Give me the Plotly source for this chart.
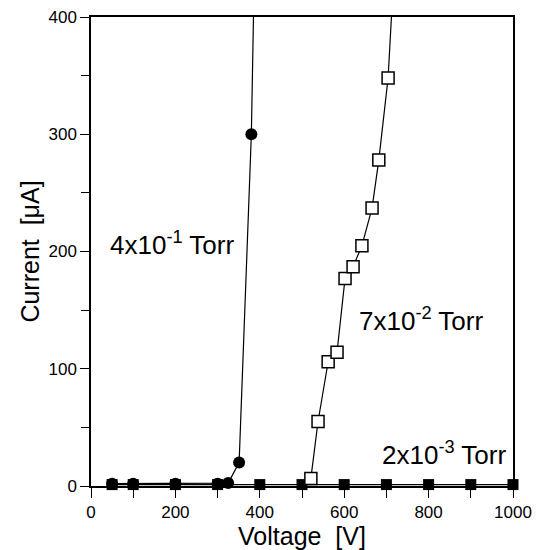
import plotly.graph_objects as go

# 4x10^-1 Torr (filled circles)
v_hi = [50, 100, 200, 300, 325, 351, 380]
i_hi = [2, 2, 2, 2, 2.5, 20, 300]
# line continuation beyond the last point (to top of plot)
v_hi_line = v_hi + [386]
i_hi_line = i_hi + [420]

# 7x10^-2 Torr (open squares)
v_mid = [521, 538, 562, 583, 602, 621, 642, 666, 682, 704]
i_mid = [6.5, 55, 106, 114, 177, 187, 205, 237, 278, 348]
v_mid_line = v_mid + [715]
i_mid_line = i_mid + [420]

# 2x10^-3 Torr (filled squares)
v_lo = [50, 100, 200, 300, 400, 500, 600, 700, 800, 900, 1000]
i_lo = [1.2, 1.2, 1.2, 1.2, 1.2, 1.2, 1.2, 1.2, 1.2, 1.2, 1.2]

labels = ["4x10<sup>-1</sup> Torr", "7x10<sup>-2</sup> Torr", "2x10<sup>-3</sup> Torr"]
label_x = [192, 782, 836]
label_y = [207, 142, 28]

FONT = "Liberation Sans, Arial, sans-serif"

fig = go.Figure()
# lines
fig.add_trace(go.Scatter(x=v_lo, y=i_lo, mode="lines", line=dict(color="black", width=1.2), hoverinfo="skip"))
fig.add_trace(go.Scatter(x=v_hi_line, y=i_hi_line, mode="lines", line=dict(color="black", width=1.2), hoverinfo="skip"))
fig.add_trace(go.Scatter(x=v_mid_line, y=i_mid_line, mode="lines", line=dict(color="black", width=1.2), hoverinfo="skip"))
# markers
fig.add_trace(go.Scatter(x=v_lo, y=i_lo, mode="markers", cliponaxis=False,
                         marker=dict(symbol="square", size=11, color="black")))
fig.add_trace(go.Scatter(x=v_hi, y=i_hi, mode="markers", cliponaxis=False,
                         marker=dict(symbol="circle", size=12, color="black")))
fig.add_trace(go.Scatter(x=v_mid, y=i_mid, mode="markers", cliponaxis=False,
                         marker=dict(symbol="square", size=12, color="white",
                                     line=dict(color="black", width=1.5))))

for t, x, y in zip(labels, label_x, label_y):
    fig.add_annotation(x=x, y=y, text=t, showarrow=False,
                       font=dict(family=FONT, size=26, color="black"))

fig.update_layout(
    width=547, height=550,
    margin=dict(l=83, r=42, t=9, b=72, autoexpand=False),
    paper_bgcolor="white", plot_bgcolor="white",
    showlegend=False,
    font=dict(family=FONT, color="black"),
)
fig.update_xaxes(
    range=[0, 1000], tickmode="linear", tick0=0, dtick=200,
    ticks="outside", ticklen=10, tickwidth=1.2, tickcolor="black",
    minor=dict(dtick=100, ticks="outside", ticklen=10, tickwidth=1.2, tickcolor="black"),
    showline=True, linecolor="black", linewidth=1.5, mirror=True,
    showgrid=False, zeroline=False, automargin=False, ticklabeloverflow="allow",
    tickfont=dict(family=FONT, size=17),
    title=dict(text="Voltage  [V]", font=dict(family=FONT, size=25), standoff=4),
)
fig.update_yaxes(
    range=[0, 400], tickmode="linear", tick0=0, dtick=100,
    ticks="outside", ticklen=9, tickwidth=1.2, tickcolor="black",
    minor=dict(dtick=50, ticks="outside", ticklen=8, tickwidth=1.2, tickcolor="black"),
    showline=True, linecolor="black", linewidth=1.5, mirror=True,
    showgrid=False, zeroline=False, automargin=False, ticklabeloverflow="allow",
    tickfont=dict(family=FONT, size=17),
    title=dict(text="Current  [μA]", font=dict(family=FONT, size=25), standoff=2),
)

fig.write_html("out.html")
